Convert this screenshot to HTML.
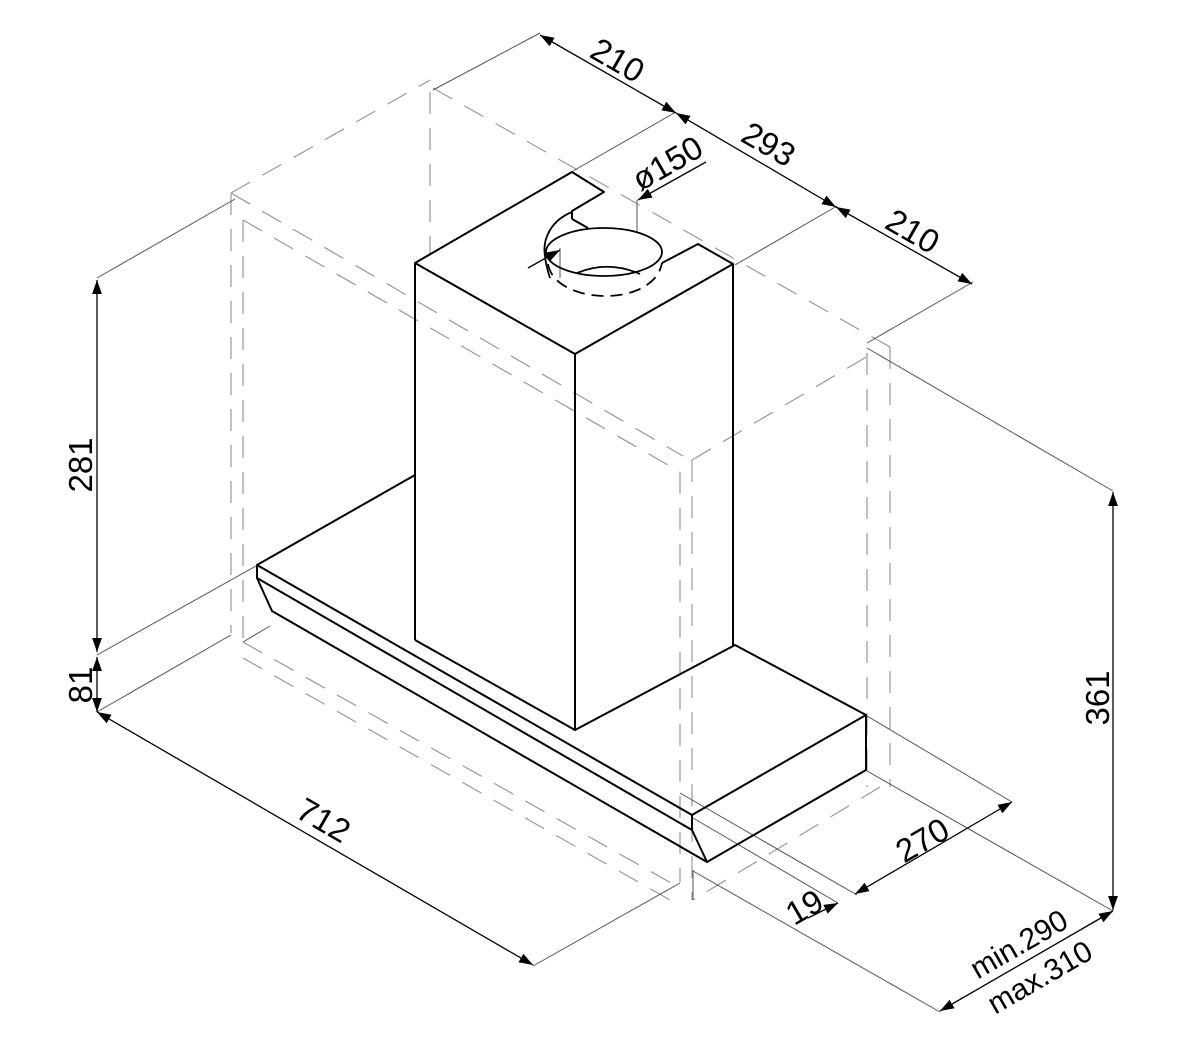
<!DOCTYPE html>
<html><head><meta charset="utf-8"><style>
html,body{margin:0;padding:0;background:#fff;}
svg{display:block;}
text{font-family:"Liberation Sans",Arial,sans-serif;font-size:33px;fill:#000;}
</style></head><body>
<svg width="1182" height="1039" viewBox="0 0 1182 1039" xmlns="http://www.w3.org/2000/svg">
<defs>
<marker id="a" viewBox="0 0 10 10" refX="10" refY="5" markerWidth="14" markerHeight="14" markerUnits="userSpaceOnUse" orient="auto-start-reverse">
<path d="M0,1.5 L10,5 L0,8.5 z" fill="#000"/>
</marker>
</defs>

<g stroke="#999" stroke-width="1.2" fill="none" stroke-dasharray="22,14">
<line x1="231" y1="193" x2="430" y2="80"/>
<line x1="433" y1="88" x2="890" y2="347"/>
<line x1="430" y1="92" x2="430" y2="255"/>
<line x1="231" y1="193" x2="231" y2="633"/>
<line x1="243" y1="220" x2="243" y2="640"/>
<line x1="231" y1="193" x2="683" y2="456"/>
<line x1="243" y1="220" x2="680" y2="472"/>
<line x1="692" y1="460" x2="873" y2="353"/>
<line x1="867" y1="353" x2="867" y2="787"/>
<line x1="890" y1="347" x2="890" y2="787"/>
<line x1="680" y1="472" x2="680" y2="882"/>
<line x1="692" y1="460" x2="692" y2="900"/>
<line x1="880" y1="787" x2="693" y2="900"/>
<line x1="243" y1="642" x2="680" y2="888"/>
<line x1="243" y1="658" x2="670" y2="900"/>
</g>

<g stroke="#555" stroke-width="1" fill="none">
<line x1="97" y1="278" x2="235" y2="199"/>
<line x1="433" y1="90" x2="540" y2="33"/>
<line x1="573" y1="171" x2="676" y2="112"/>
<line x1="735" y1="265" x2="837" y2="206"/>
<line x1="867" y1="343" x2="973" y2="282"/>
<line x1="867" y1="348" x2="1113" y2="491"/>
<line x1="97" y1="655" x2="256" y2="566"/>
<line x1="97" y1="712" x2="231" y2="635"/>
<line x1="533" y1="966" x2="680" y2="883"/>
<line x1="867" y1="716" x2="1012" y2="802"/>
<line x1="867" y1="771" x2="1113" y2="911"/>
<line x1="680" y1="793" x2="857" y2="895"/>
<line x1="693" y1="818" x2="838" y2="903"/>
<line x1="693" y1="871" x2="940" y2="1012"/>
<line x1="693" y1="870" x2="693" y2="900"/>
<line x1="637" y1="200" x2="637" y2="232"/>
<line x1="560" y1="248" x2="560" y2="278"/>
<line x1="243" y1="642" x2="270" y2="626"/>
</g>

<g stroke="#000" stroke-width="1.3" fill="none">
<line x1="540" y1="35" x2="676" y2="113" marker-start="url(#a)" marker-end="url(#a)"/>
<line x1="676" y1="113" x2="836" y2="207" marker-start="url(#a)" marker-end="url(#a)"/>
<line x1="836" y1="207" x2="972" y2="284" marker-start="url(#a)" marker-end="url(#a)"/>
<line x1="706" y1="162" x2="638" y2="200" marker-end="url(#a)"/>
<line x1="528" y1="268" x2="560" y2="250" marker-end="url(#a)"/>
<line x1="97" y1="280" x2="97" y2="652" marker-start="url(#a)" marker-end="url(#a)"/>
<line x1="97" y1="657" x2="97" y2="712" marker-start="url(#a)" marker-end="url(#a)"/>
<line x1="97" y1="712" x2="533" y2="965" marker-start="url(#a)" marker-end="url(#a)"/>
<line x1="1113" y1="492" x2="1113" y2="910" marker-start="url(#a)" marker-end="url(#a)"/>
<line x1="855" y1="894" x2="1012" y2="802" marker-start="url(#a)" marker-end="url(#a)"/>
<line x1="808" y1="918" x2="838" y2="903" marker-end="url(#a)"/>
<line x1="940" y1="1011" x2="1113" y2="911" marker-start="url(#a)" marker-end="url(#a)"/>
</g>

<g stroke="#000" stroke-width="2" fill="none" stroke-linejoin="round">
<polyline points="415,640 415,263 572,172 604,192 572,211 572,219"/>
<line x1="572" y1="219" x2="588" y2="228"/>
<polyline points="662,263 698,244 733,264 733,645"/>
<polyline points="415,263 575,354 733,264"/>
<line x1="575" y1="354" x2="575" y2="730"/>
<polyline points="415,640 575,730 735,645 866,715"/>
<ellipse cx="604" cy="252" rx="58" ry="24" stroke-width="1.8"/>
<path d="M572,212 C552,220 542,238 545,256 C546,266 548,272 550,278" stroke-width="1.8"/>
<path d="M577,273 Q608,260 640,274" stroke-width="1.8"/>
<path d="M548,264 C552,286 580,296 606,296 C632,296 658,285 662,263" stroke-width="1.8" stroke-dasharray="12,7"/>
<polyline points="415,475 257,565 257,578 272,611 707,862 692,830 692,815 257,565"/>
<line x1="257" y1="578" x2="692" y2="830"/>
<polyline points="692,815 866,715 866,770 707,862"/>
</g>

<text transform="translate(612,70) rotate(30)" text-anchor="middle">210</text>
<text transform="translate(763,154) rotate(30)" text-anchor="middle">293</text>
<text transform="translate(907,241) rotate(30)" text-anchor="middle">210</text>
<text transform="translate(673,173) rotate(-30)" text-anchor="middle">ø150</text>
<text transform="translate(92,465) rotate(-90)" text-anchor="middle">281</text>
<text transform="translate(92,685) rotate(-90)" text-anchor="middle">81</text>
<text transform="translate(1109,698) rotate(-90)" text-anchor="middle">361</text>
<text transform="translate(318,830) rotate(30)" text-anchor="middle">712</text>
<text transform="translate(928,850) rotate(-30)" text-anchor="middle">270</text>
<text transform="translate(810,917) rotate(-30)" text-anchor="middle">19</text>
<text transform="translate(1024,953) rotate(-30)" text-anchor="middle" style="font-size:30px">min.290</text>
<text transform="translate(1045,986) rotate(-30)" text-anchor="middle" style="font-size:30px">max.310</text>
</svg>
</body></html>
